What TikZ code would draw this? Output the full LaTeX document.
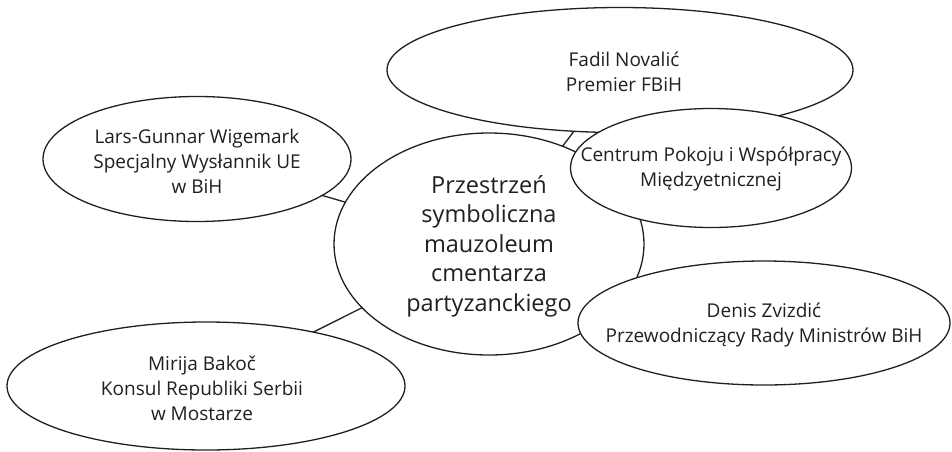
\documentclass[tikz,border=0pt]{standalone}
\usepackage{fontspec}
\setmainfont{Open Sans}
\usetikzlibrary{shapes.geometric}
\definecolor{ink}{HTML}{231F20}
\begin{document}
\begin{tikzpicture}[x=1pt,y=1pt,
  bubble/.style={ellipse, draw=ink, fill=white, line width=1.3pt, inner sep=0pt},
  words/.style={align=center, text=ink, inner sep=0pt, font=\fontsize{19}{25}\selectfont},
  bigwords/.style={words, font=\fontsize{23.5}{29.5}\selectfont},
  link/.style={draw=ink, line width=1.3pt}]
\useasboundingbox (0,0) rectangle (952,-451);
% centres
\coordinate (cC) at (489,-244);
\coordinate (cF) at (620,-70);
\coordinate (cP) at (711,-168);
\coordinate (cL) at (197,-159);
\coordinate (cM) at (206,-386);
\coordinate (cD) at (764,-323);
% connectors (drawn beneath the bubbles)
\path[link] (cC) -- (cF);
\path[link] (cC) -- (cL);
\path[link] (cC) -- (cM);
\path[link] (cC) -- (cP);
\path[link] (cC) -- (cD);
% bubbles
\node[bubble, minimum width=310pt, minimum height=222pt] (C) at (cC) {};
\node[bigwords] (Ct) at ([yshift=-2pt]C.center)
  {Przestrzeń\\symboliczna\\mauzoleum\\cmentarza\\partyzanckiego};
\node[bubble, minimum width=466pt, minimum height=125pt] (F) at (cF) {};
\node[words] (Ft) at ([xshift=4pt,yshift=-2pt]F.center) {Fadil Novalić\\Premier FBiH};
\node[bubble, minimum width=281pt, minimum height=119pt] (P) at (cP) {};
\node[words] (Pt) at ([yshift=-1pt]P.center) {Centrum Pokoju i Współpracy\\Międzyetnicznej};
\node[bubble, minimum width=372pt, minimum height=124pt] (D) at (cD) {};
\node[words] (Dt) at ([yshift=-2pt]D.center) {Denis Zvizdić\\Przewodniczący Rady Ministrów BiH};
\node[bubble, minimum width=308pt, minimum height=125pt] (L) at (cL) {};
\node[words] (Lt) at ([yshift=-2pt]L.center) {Lars-Gunnar Wigemark\\Specjalny Wysłannik UE\\w BiH};
\node[bubble, minimum width=398pt, minimum height=128pt] (M) at (cM) {};
\node[words] (Mt) at ([xshift=-4pt,yshift=-2pt]M.center) {Mirija Bakoč\\Konsul Republiki Serbii\\w Mostarze};
\end{tikzpicture}
\end{document}
